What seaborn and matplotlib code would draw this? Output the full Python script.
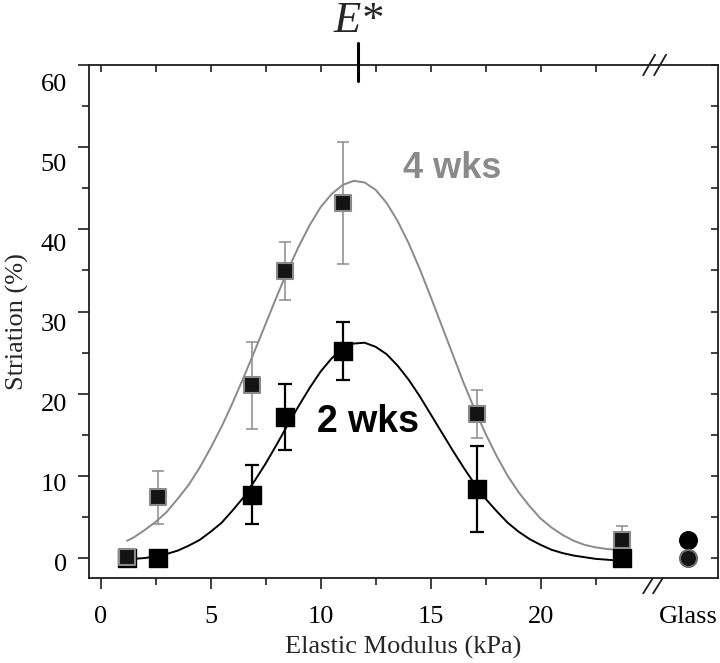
import matplotlib
matplotlib.use("Agg")
import matplotlib.pyplot as plt
import matplotlib.transforms as mtransforms
import pandas as pd
import seaborn as sns

# measured points: substrate stiffness (kPa) vs. % striated cells
modulus = [1.2, 2.6, 6.9, 8.4, 11.0, 17.1, 23.7]
wk2_mean = [0.0, 0.0, 7.7, 17.2, 25.2, 8.4, 0.0]
wk2_err = [0.0, 0.0, 3.6, 4.0, 3.5, 5.2, 0.0]
wk4_mean = [0.1, 7.4, 21.0, 34.9, 43.2, 17.5, 2.2]
wk4_err = [0.0, 3.2, 5.3, 3.5, 7.4, 2.9, 1.7]

# glass controls (plotted past the axis break)
glass_x = 26.7
glass_2wk = 2.2
glass_4wk = 0.0

# fitted curves, every 0.5 kPa
fit_x = [1.2, 1.5, 2, 2.5, 3, 3.5, 4, 4.5, 5, 5.5, 6, 6.5, 7, 7.5, 8, 8.5,
         9, 9.5, 10, 10.5, 11, 11.5, 12, 12.5, 13, 13.5, 14, 14.5, 15,
         15.5, 16, 16.5, 17, 17.5, 18, 18.5, 19, 19.5, 20, 20.5, 21, 21.5,
         22, 22.5, 23, 23.5]
fit_2wk = [-0.2, -0.1, 0.0, 0.2, 0.5, 0.9, 1.5, 2.2, 3.2, 4.3, 5.8, 7.4,
           9.4, 11.5, 13.8, 16.2, 18.5, 20.7, 22.7, 24.3, 25.5, 26.1, 26.2,
           25.7, 24.8, 23.4, 21.7, 19.7, 17.5, 15.3, 13.1, 11.0, 9.0, 7.2,
           5.7, 4.3, 3.2, 2.3, 1.6, 1.0, 0.6, 0.3, 0.1, -0.1, -0.2, -0.3]
fit_4wk = [2.1, 2.5, 3.4, 4.4, 5.6, 7.2, 8.9, 11.0, 13.4, 16.0, 18.9, 22.0,
           25.2, 28.5, 31.8, 35.0, 37.9, 40.5, 42.7, 44.3, 45.4, 45.9, 45.7,
           44.8, 43.2, 41.0, 38.3, 35.2, 31.8, 28.3, 24.8, 21.3, 18.1, 15.1,
           12.4, 10.0, 8.0, 6.3, 4.8, 3.7, 2.8, 2.1, 1.6, 1.3, 1.1, 1.0]

e_star = 11.7
ytick_vals = [0, 10, 20, 30, 40, 50, 60]

GRAY = "#8a8a8a"
INK = "#1e1e1e"

sns.set_theme(style="ticks")
plt.rcParams["font.family"] = ["Liberation Serif", "DejaVu Serif"]
plt.rcParams["axes.unicode_minus"] = False

fig = plt.figure(figsize=(7.2, 6.63), dpi=100)
ax = fig.add_axes([0.1236, 0.1282, 0.8736, 0.7738])

fits = pd.DataFrame({"x": fit_x, "2 wks": fit_2wk, "4 wks": fit_4wk})
sns.lineplot(data=fits, x="x", y="4 wks", color=GRAY, lw=1.4, ax=ax, zorder=2)
sns.lineplot(data=fits, x="x", y="2 wks", color="black", lw=1.4, ax=ax, zorder=2)

# error bars
ax.errorbar(modulus, wk2_mean, yerr=wk2_err, fmt="none", ecolor="black",
            elinewidth=1.6, capsize=5, capthick=1.6, zorder=3)
ax.errorbar(modulus, wk4_mean, yerr=wk4_err, fmt="none", ecolor=GRAY,
            elinewidth=1.1, capsize=4, capthick=1.1, zorder=3)

sns.scatterplot(x=modulus, y=wk2_mean, marker="s", s=150, color="black",
                edgecolor="black", linewidth=1, ax=ax, zorder=4)
sns.scatterplot(x=modulus, y=wk4_mean, marker="s", s=120, color="#141414",
                edgecolor=GRAY, linewidth=1.5, ax=ax, zorder=5)

# glass
sns.scatterplot(x=[glass_x], y=[glass_2wk], marker="o", s=160, color="black",
                edgecolor="black", linewidth=1, ax=ax, zorder=4)
sns.scatterplot(x=[glass_x], y=[glass_4wk], marker="o", s=150, color="#141414",
                edgecolor="#6a6a6a", linewidth=1.5, ax=ax, zorder=5)

ax.text(16.0, 47.4, "4 wks", color=GRAY, fontsize=26, fontweight="bold",
        family="Liberation Sans", ha="center", va="center")
ax.text(12.15, 16.6, "2 wks", color="black", fontsize=27, fontweight="bold",
        family="Liberation Sans", ha="center", va="center")

ax.set_xlim(-0.53, 28.06)
ax.set_ylim(-2.43, 60)

ax.set_xticks([0, 5, 10, 15, 20, glass_x])
ax.set_xticklabels(["0", "5", "10", "15", "20", "Glass"])
ax.set_xticks([2.5, 7.5, 12.5, 17.5, 22.5], minor=True)
ax.set_yticks(ytick_vals)
ax.set_yticks([5, 15, 25, 35, 45, 55], minor=True)

for sp in ax.spines.values():
    sp.set_color(INK)
    sp.set_linewidth(1.3)
    sp.set_visible(True)

ax.tick_params(which="both", colors=INK, labelcolor="black", labelsize=19, width=1.2)
ax.tick_params(axis="x", which="major", direction="out", length=8, pad=12, top=True)
ax.tick_params(axis="x", which="minor", direction="out", length=5, top=True)
ax.tick_params(axis="y", which="major", direction="out", length=8, pad=8, right=True)
ax.tick_params(axis="y", which="minor", direction="out", length=5, right=True)
# top / right ticks point inward
for t in ax.xaxis.get_major_ticks() + ax.xaxis.get_minor_ticks():
    t.tick2line.set_marker(3)
    t.tick2line.set_markersize(5)
for t in ax.yaxis.get_major_ticks() + ax.yaxis.get_minor_ticks():
    t.tick2line.set_marker(0)
    t.tick2line.set_markersize(5)
glass_tick = ax.xaxis.get_major_ticks()[-1]
glass_tick.tick1line.set_visible(False)
glass_tick.tick2line.set_visible(False)

# the original y labels sit a little below their ticks, more so near the top
for lbl, v in zip(ax.get_yticklabels(), ytick_vals):
    shift = (4 + 14 * v / 60) / 100
    lbl.set_transform(lbl.get_transform()
                      + mtransforms.ScaledTranslation(0, -shift, fig.dpi_scale_trans))

ax.set_xlabel("Elastic Modulus (kPa)", fontsize=19, labelpad=6)
ax.set_ylabel("Striation (%)", fontsize=19, labelpad=8)

# E* marker on top axis
blend = mtransforms.blended_transform_factory(ax.transData, ax.transAxes)
ax.plot([e_star, e_star], [0.969, 1.043], color="black", lw=2.2,
        transform=blend, clip_on=False, zorder=6)
ax.text(e_star, 1.085, "E*", transform=blend, fontsize=32, style="italic",
        ha="center", va="center", clip_on=False)

# axis break marks
for xc in (24.93, 25.43):
    ax.plot([xc - 0.27, xc + 0.27], [1 - 0.02, 1 + 0.02], color=INK, lw=1.3,
            transform=blend, clip_on=False, zorder=6)
for xc in (24.88, 25.33):
    ax.plot([xc - 0.22, xc + 0.22], [-0.03, 0.0], color=INK, lw=1.3,
            transform=blend, clip_on=False, zorder=6)

fig.savefig("out.png", dpi=100)
